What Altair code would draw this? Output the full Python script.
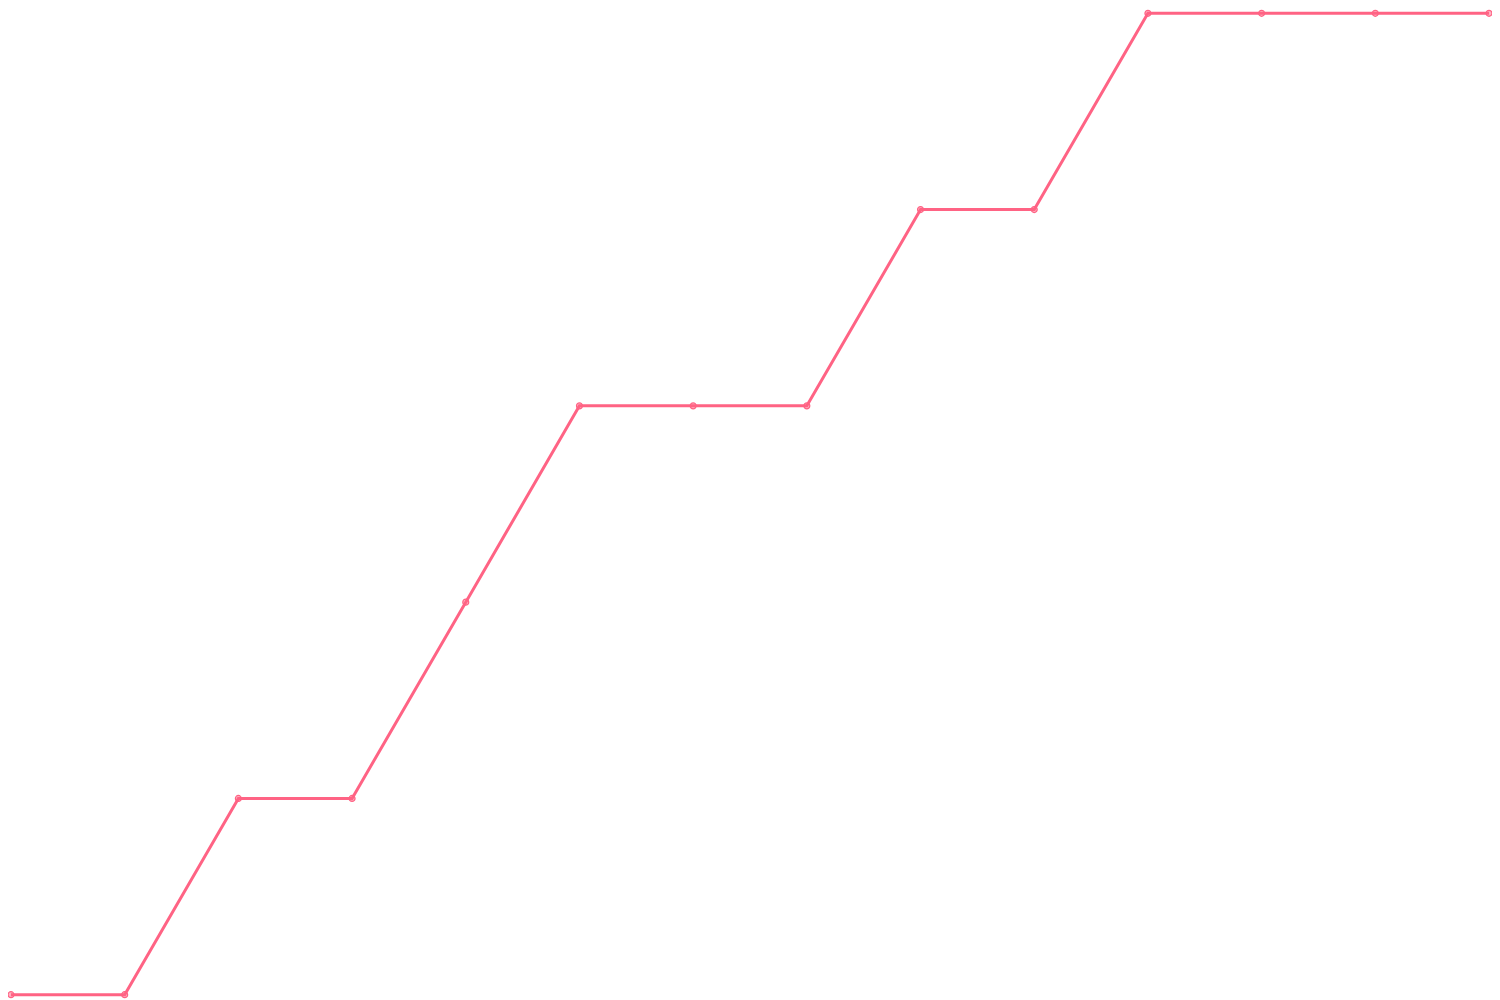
import altair as alt
import pandas as pd

steps = list(range(14))
values = [0, 0, 1, 1, 2, 3, 3, 3, 4, 4, 5, 5, 5, 5]

df = pd.DataFrame({"step": steps, "value": values})

x = alt.X("step:Q", axis=None, scale=alt.Scale(domain=[0, 13], nice=False, zero=False))
y = alt.Y("value:Q", axis=None, scale=alt.Scale(domain=[0, 5], nice=False))

line = alt.Chart(df).mark_line(color="#ff6384", strokeWidth=3).encode(x=x, y=y)
pts = alt.Chart(df).mark_point(
    filled=True, fill="#ff6384", fillOpacity=0.5, stroke="#ff6384", strokeWidth=1.2, size=36, opacity=1
).encode(x=x, y=y)

chart = (line + pts).properties(
    width=1485, height=986,
    padding={"left": 3, "top": 3, "right": 3, "bottom": 3},
    autosize=alt.AutoSizeParams(type="none"),
).configure_view(stroke=None)

chart.save("out.html", embed_options={"renderer": "svg", "actions": False})
